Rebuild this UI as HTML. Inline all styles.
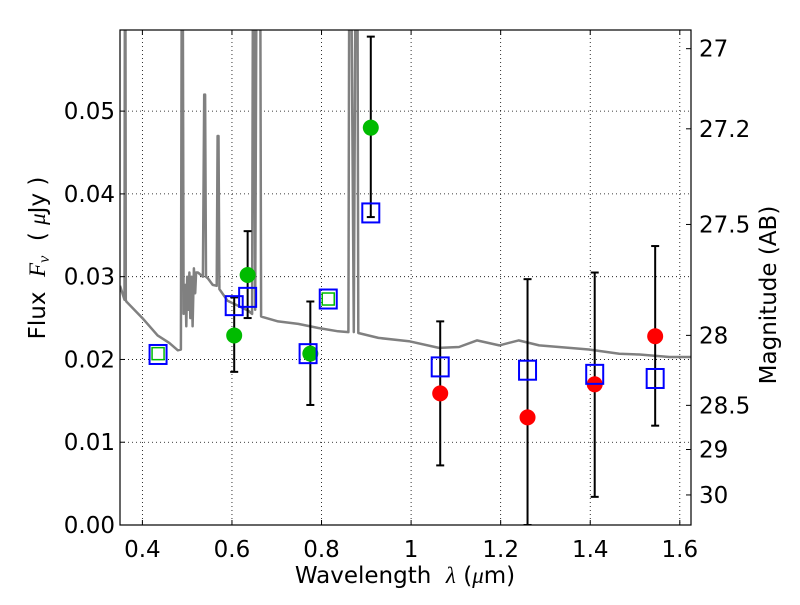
<!DOCTYPE html>
<html><head><meta charset="utf-8"><style>
html,body{margin:0;padding:0;background:#fff}
svg text{font-family:"DejaVu Sans","Liberation Sans",sans-serif;fill:#000}
</style></head><body>
<svg id="chart" width="800" height="600" xmlns="http://www.w3.org/2000/svg"></svg>
<script>
const xTicks=[0.4,0.6,0.8,1.0,1.2,1.4,1.6];
const xTickLabels=["0.4","0.6","0.8","1","1.2","1.4","1.6"];
const yTicks=[0,0.01,0.02,0.03,0.04,0.05];
const yTickLabels=["0.00","0.01","0.02","0.03","0.04","0.05"];
const magTicks=[27,27.2,27.5,28,28.5,29,30];
const magTickLabels=["27","27.2","27.5","28","28.5","29","30"];
const specWave=[0.35,0.36,0.361,0.362,0.363,0.364,0.40,0.434,0.46,0.479,0.486,0.488,0.49,0.492,0.496,0.498,0.50,0.502,0.505,0.507,0.51,0.512,0.515,0.518,0.52,0.524,0.535,0.538,0.540,0.542,0.546,0.557,0.566,0.568,0.570,0.572,0.59,0.613,0.636,0.645,0.647,0.649,0.652,0.655,0.658,0.660,0.663,0.665,0.67,0.703,0.748,0.793,0.837,0.86,0.862,0.866,0.872,0.876,0.880,0.882,0.927,0.995,1.062,1.107,1.147,1.197,1.24,1.286,1.33,1.397,1.465,1.51,1.577,1.625];
const specFlux=[0.0289,0.0272,0.07,0.07,0.0272,0.027,0.025,0.0229,0.022,0.0211,0.0212,0.07,0.07,0.0255,0.029,0.024,0.030,0.026,0.0305,0.025,0.030,0.024,0.031,0.028,0.0305,0.0305,0.030,0.052,0.052,0.030,0.0298,0.029,0.0289,0.047,0.047,0.0285,0.0271,0.0265,0.0259,0.0255,0.07,0.07,0.026,0.07,0.07,0.07,0.07,0.0252,0.0251,0.0246,0.0243,0.0238,0.0234,0.0233,0.07,0.07,0.0233,0.07,0.07,0.0232,0.0226,0.0222,0.0214,0.0215,0.0223,0.0217,0.0223,0.0217,0.0215,0.0212,0.0207,0.0206,0.0203,0.0203];
const greenWave=[0.605,0.635,0.775,0.91];
const greenFlux=[0.0229,0.0302,0.0207,0.048];
const redWave=[1.065,1.26,1.41,1.545];
const redFlux=[0.0159,0.0130,0.0170,0.0228];
const blueWave=[0.435,0.605,0.635,0.77,0.815,0.91,1.065,1.26,1.41,1.545];
const blueFlux=[0.0206,0.0265,0.0275,0.0207,0.0273,0.0377,0.0191,0.0187,0.0182,0.0177];
const smallGreenWave=[0.435,0.815];
const smallGreenFlux=[0.0207,0.0273];
const errWave=[0.605,0.635,0.775,0.91,1.065,1.26,1.41,1.545];
const errLow=[0.0185,0.0250,0.0145,0.0372,0.0072,0.0,0.0034,0.0120];
const errHigh=[0.0275,0.0355,0.0270,0.0590,0.0246,0.0297,0.0305,0.0337];

const L=120,R=691,T=30,B=525,X0=0.35,X1=1.625,Y0=0,Y1=0.0598;
const sx=v=>L+(v-X0)/(X1-X0)*(R-L);
const sy=v=>B-(v-Y0)/(Y1-Y0)*(B-T);
const magToFlux=m=>Math.pow(10,(23.9-m)/2.5);
const svg=document.getElementById('chart');
const NS="http://www.w3.org/2000/svg";
function mk(tag,attrs,parent){const e=document.createElementNS(NS,tag);for(const k in attrs)e.setAttribute(k,attrs[k]);(parent||svg).appendChild(e);return e;}

const defs=mk('defs',{});
const cp=mk('clipPath',{id:'clip'},defs);
mk('rect',{x:L,y:T,width:R-L,height:B-T},cp);

xTicks.forEach((t,i)=>{
  const g=mk('line',{x1:sx(t),x2:sx(t),y1:T,y2:B,stroke:'#000','stroke-width':0.8,'stroke-dasharray':'1,3'});
  
  
});
yTicks.forEach((t,i)=>{
  const g=mk('line',{x1:L,x2:R,y1:sy(t),y2:sy(t),stroke:'#000','stroke-width':0.8,'stroke-dasharray':'1,3'});
  
  
});

const plot=mk('g',{'clip-path':'url(#clip)'});


let d='';
specWave.forEach((w,i)=>{d+=(i?'L':'M')+sx(w).toFixed(1)+','+sy(specFlux[i]).toFixed(1);});
const sp=mk('path',{d:d,fill:'none',stroke:'#808080','stroke-width':2.5,'stroke-linejoin':'round'},plot);



errWave.forEach((w,i)=>{
  const x=sx(w),y1=sy(errLow[i]),y2=sy(errHigh[i]);
  const g=mk('g',{stroke:'#000','stroke-width':2},plot);
  
  
  mk('line',{x1:x,x2:x,y1:y1,y2:y2},g);
  mk('line',{x1:x-4,x2:x+4,y1:y1,y2:y1},g);
  mk('line',{x1:x-4,x2:x+4,y1:y2,y2:y2},g);
});
greenWave.forEach((w,i)=>{
  const c=mk('circle',{cx:sx(w),cy:sy(greenFlux[i]),r:8,fill:'#00bb00'},plot);
  
  
});
redWave.forEach((w,i)=>{
  const c=mk('circle',{cx:sx(redWave[i]),cy:sy(redFlux[i]),r:8,fill:'#ff0000'},plot);
  
  
});
smallGreenWave.forEach((w,i)=>{
  const s=mk('rect',{x:sx(w)-6,y:sy(smallGreenFlux[i])-6,width:12,height:12,fill:'none',stroke:'#00bb00','stroke-width':1.5},plot);
  
  
});
blueWave.forEach((w,i)=>{
  const s=mk('rect',{x:sx(w)-8.5,y:sy(blueFlux[i])-9.5,width:17,height:19,fill:'none',stroke:'#0000ff','stroke-width':2},plot);
  
  
});

const fr=mk('rect',{x:L,y:T,width:R-L,height:B-T,fill:'none',stroke:'#000','stroke-width':1.2});



xTicks.forEach((t,i)=>{
  mk('line',{x1:sx(t),x2:sx(t),y1:B,y2:B-5,stroke:'#000'});
  mk('line',{x1:sx(t),x2:sx(t),y1:T,y2:T+5,stroke:'#000'});
  const tx=mk('text',{x:sx(t),y:B+32,'text-anchor':'middle','font-size':23});
  tx.textContent=xTickLabels[i];
  
  
});
yTicks.forEach((t,i)=>{
  mk('line',{x1:L,x2:L+5,y1:sy(t),y2:sy(t),stroke:'#000'});
  const tx=mk('text',{x:L-5,y:sy(t)+8,'text-anchor':'end','font-size':23});
  tx.textContent=yTickLabels[i];
  
  
});
magTicks.forEach((m,i)=>{
  const y=sy(magToFlux(m));
  mk('line',{x1:R-5,x2:R,y1:y,y2:y,stroke:'#000'});
  const tx=mk('text',{x:R+8,y:y+8,'font-size':23});
  tx.textContent=magTickLabels[i];
  
  
});

const xl=mk('text',{x:405,y:583,'text-anchor':'middle','font-size':23});
xl.innerHTML='Wavelength &#160;<tspan font-family="Liberation Serif,serif" font-style="italic">λ</tspan> (<tspan font-family="Liberation Serif,serif" font-style="italic">μ</tspan>m)';


const yl=mk('text',{transform:'translate(45,258) rotate(-90)','text-anchor':'middle','font-size':23});
yl.innerHTML='Flux &#160;<tspan font-family="Liberation Serif,serif" font-style="italic">F<tspan font-size="16" dy="4">ν</tspan></tspan><tspan dy="-4"> &#160;( </tspan><tspan font-family="Liberation Serif,serif" font-style="italic">μ</tspan>Jy )';


const rl=mk('text',{transform:'translate(776,295) rotate(-90)','text-anchor':'middle','font-size':23});
rl.textContent='Magnitude (AB)';


</script>
</body></html>
